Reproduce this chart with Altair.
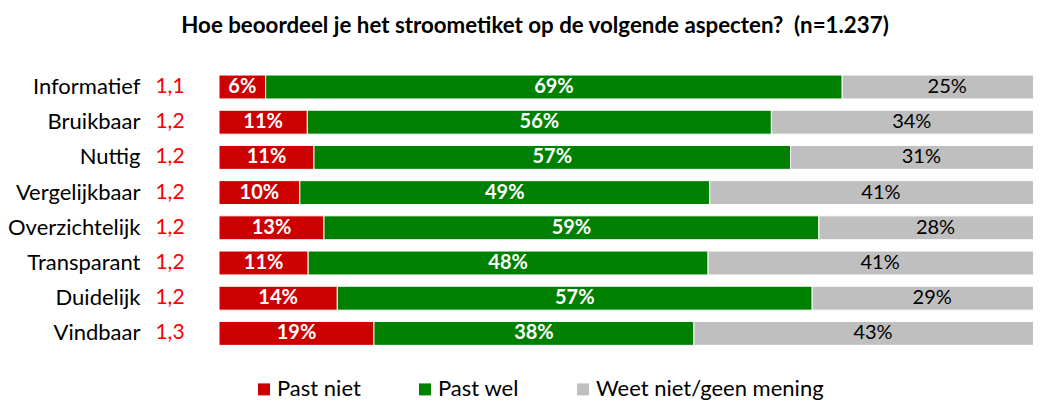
import altair as alt
import pandas as pd

categories = ["Informatief", "Bruikbaar", "Nuttig", "Vergelijkbaar",
              "Overzichtelijk", "Transparant", "Duidelijk", "Vindbaar"]
scores = ["1,1", "1,2", "1,2", "1,2", "1,2", "1,2", "1,2", "1,3"]
past_niet = [5.6, 10.6, 11.4, 9.7, 12.6, 10.7, 14.2, 18.6]
past_wel = [69.2, 55.7, 57.2, 49.2, 59.4, 48.0, 57.0, 38.4]
weet_niet = [25.2, 33.7, 31.4, 41.1, 28.0, 41.3, 28.8, 43.0]
series = ["Past niet", "Past wel", "Weet niet/geen mening"]
colors = ["#CC0000", "#008000", "#BFBFBF"]

FONT = "Lato"

rows = []
for i, c in enumerate(categories):
    for j, (s, vals) in enumerate(zip(series, [past_niet, past_wel, weet_niet])):
        rows.append({"cat": c, "series": s, "value": vals[i], "ord": j})
df = pd.DataFrame(rows)
score_df = pd.DataFrame({"cat": categories, "score": scores})

xscale = alt.Scale(domain=[0, 97.7], nice=False, zero=True)
yscale = alt.Scale(domain=categories, paddingInner=0.32, paddingOuter=0.16)

bars = alt.Chart(df).mark_bar(stroke="white", strokeWidth=1, clip=True).encode(
    x=alt.X("value:Q", stack="zero", scale=xscale, axis=None),
    y=alt.Y("cat:N", sort=categories, scale=yscale, title=None,
            axis=alt.Axis(ticks=False, domain=False, labelPadding=79,
                          labelFontSize=22, labelFont=FONT, labelColor="#000000",
                          labelLimit=300)),
    color=alt.Color("series:N", scale=alt.Scale(domain=series, range=colors),
                    legend=alt.Legend(orient="none", legendX=34, legendY=309,
                                      direction="horizontal", title=None,
                                      symbolType="square", symbolSize=144,
                                      symbolStrokeWidth=0,
                                      labelFontSize=22, labelFont=FONT,
                                      labelColor="#000000", columnPadding=53,
                                      labelOffset=2, labelLimit=400)),
    order=alt.Order("ord:Q"),
)

base_text = alt.Chart(df).transform_stack(
    stack="value", as_=["x0", "x1"], groupby=["cat"],
    sort=[alt.SortField("ord", order="ascending")]
).transform_calculate(
    mid="(datum.x0 + datum.x1) / 2",
    lab="format(datum.value, '.0f') + '%'"
)

white_labels = base_text.transform_filter("datum.ord < 2").mark_text(
    color="white", fontWeight="bold", fontSize=20, font=FONT, clip=True
).encode(
    x=alt.X("mid:Q", scale=xscale, axis=None),
    y=alt.Y("cat:N", sort=categories, scale=yscale),
    text="lab:N",
)

black_labels = base_text.transform_filter("datum.ord == 2").mark_text(
    color="#000000", fontSize=20, font=FONT, clip=True
).encode(
    x=alt.X("mid:Q", scale=xscale, axis=None),
    y=alt.Y("cat:N", sort=categories, scale=yscale),
    text="lab:N",
)

score_text = alt.Chart(score_df).mark_text(
    color="#FF0000", fontSize=21, font=FONT, align="center"
).encode(
    x=alt.value(-49),
    y=alt.Y("cat:N", sort=categories, scale=yscale),
    text="score:N",
)

chart = alt.layer(bars, white_labels, black_labels, score_text).properties(
    width=814,
    height=281.6,
    title=alt.Title("Hoe beoordeel je het stroometiket op de volgende aspecten?\u00a0\u00a0(n=1.237)",
                    fontSize=22.3, font=FONT, fontWeight="bold", anchor="middle",
                    dx=-91, offset=32, color="#000000"),
    autosize=alt.AutoSizeParams(type="none"),
    padding={"left": 211, "top": 61.4, "right": 0, "bottom": 52},
).configure_view(stroke=None)

chart.save("out.html", embed_options={"renderer": "svg", "actions": False})
